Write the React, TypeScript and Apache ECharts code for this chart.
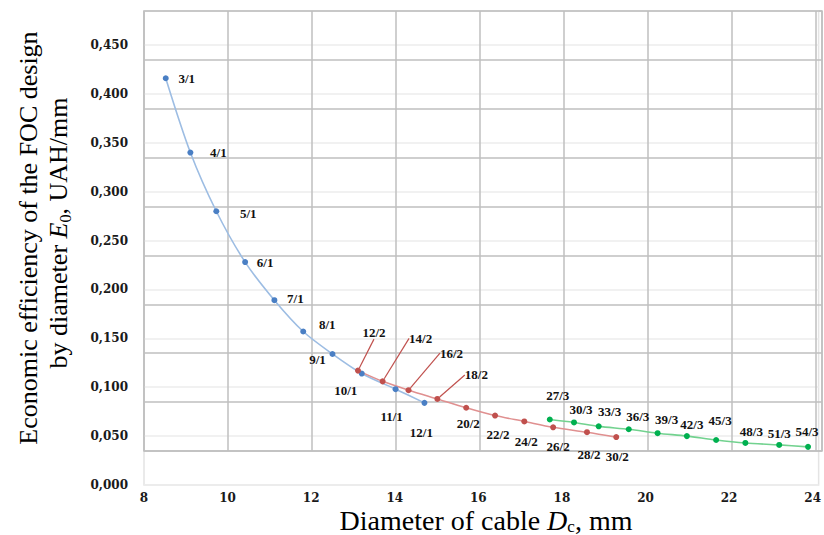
import React, { useEffect, useRef } from "react";
import * as echarts from "echarts";

// ---- data ----
const blueX = [8.52, 9.11, 9.73, 10.42, 11.12, 11.81, 12.51, 13.21, 14.02, 14.71];
const blueY = [0.416, 0.340, 0.280, 0.228, 0.189, 0.157, 0.134, 0.114, 0.098, 0.084];
const blueLabels = ["3/1", "4/1", "5/1", "6/1", "7/1", "8/1", "9/1", "10/1", "11/1", "12/1"];

const redX = [13.12, 13.71, 14.33, 15.02, 15.71, 16.40, 17.10, 17.79, 18.60, 19.30];
const redY = [0.117, 0.106, 0.097, 0.088, 0.079, 0.071, 0.065, 0.059, 0.054, 0.049];
const redLabels = ["12/2", "14/2", "16/2", "18/2", "20/2", "22/2", "24/2", "26/2", "28/2", "30/2"];

const greenX = [17.71, 18.29, 18.88, 19.60, 20.29, 20.99, 21.69, 22.39, 23.20, 23.89];
const greenY = [0.067, 0.064, 0.060, 0.057, 0.053, 0.050, 0.046, 0.043, 0.041, 0.039];
const greenLabels = ["27/3", "30/3", "33/3", "36/3", "39/3", "42/3", "45/3", "48/3", "51/3", "54/3"];

// ---- label placement (pixel offsets from each point) ----
const blueOffsets = [[21, 0], [28, 0], [32, 2], [20, 0], [21, -2], [24, -7], [-15, 6], [-16, 17], [-4, 27], [-3, 30]];
const redOffsets = [[16, -38], [38, -43], [43, -37], [39, -24], [2, 16], [3, 19], [2, 20], [5, 19], [2, 22], [1, 19]];
const redLeader = [true, true, true, true, false, false, false, false, false, false];
const greenOffsets = [[8, -24], [7, -13], [11, -15], [9, -13], [9, -14], [5, -12], [4, -20], [6, -11], [0, -11], [-1, -15]];

const X_MIN = 8;
const X_MAX = 24.143;
const Y_MAX = 0.4848;

const serif = "'Liberation Serif', 'Times New Roman', serif";
const tickFont = "'DejaVu Serif', serif";

function buildSeries(
  name: string,
  xs: number[],
  ys: number[],
  labels: string[],
  offsets: number[][],
  lineColor: string,
  dotColor: string,
  leader?: boolean[]
) {
  return {
    name,
    type: "line",
    xAxisIndex: 0,
    yAxisIndex: 0,
    smooth: 0.3,
    symbol: "circle",
    symbolSize: 6,
    z: 5,
    lineStyle: { color: lineColor, width: 1.6 },
    itemStyle: { color: dotColor },
    data: xs.map((x, i) => ({
      value: [x, ys[i]],
      label: { offset: offsets[i] },
      labelLine: leader && leader[i] ? { show: true, lineStyle: { color: dotColor, width: 1.2 } } : { show: false },
    })),
    label: {
      show: true,
      position: "inside",
      align: "center",
      verticalAlign: "middle",
      fontFamily: serif,
      fontWeight: "bold",
      fontSize: 13,
      color: "#111",
      formatter: (p: any) => labels[p.dataIndex],
    },
  };
}

const titleRich = (size: number, lh: number, subH: number) => ({
  n: { fontFamily: serif, fontSize: size, lineHeight: lh, fill: "#000" },
  i: { fontFamily: serif, fontSize: size, lineHeight: lh, fontStyle: "italic", fill: "#000" },
  s: {
    fontFamily: serif,
    fontSize: Math.round(size * 0.62),
    lineHeight: subH,
    height: subH,
    verticalAlign: "bottom",
    fill: "#000",
  },
});

export default function App() {
  const ref = useRef<HTMLDivElement>(null);
  useEffect(() => {
    if (!ref.current) return;
    const chart = echarts.init(ref.current, undefined, { renderer: "svg" });
    const option: any = {
      animation: false,
      backgroundColor: "#ffffff",
      grid: [
        {
          left: 144,
          right: 2,
          top: 11,
          bottom: 50,
          show: true,
          borderColor: "#e4e4e4",
          borderWidth: 1.5,
          backgroundColor: "transparent",
        },
        {
          left: 144,
          right: 2,
          top: 11,
          bottom: 84,
          show: true,
          borderColor: "#bfbfbf",
          borderWidth: 1.5,
          backgroundColor: "transparent",
        },
      ],
      xAxis: [
        {
          type: "value",
          gridIndex: 0,
          min: X_MIN,
          max: X_MAX,
          interval: 2,
          axisLine: { show: false },
          axisTick: { show: false },
          splitLine: { show: false },
          axisLabel: {
            margin: 6,
            fontFamily: tickFont,
            fontWeight: "bold",
            fontSize: 12,
            lineHeight: 14,
            color: "#1a1a1a",
            showMaxLabel: false,
            formatter: (v: number) => (Math.abs(v - Math.round(v)) < 1e-6 ? String(Math.round(v)) : ""),
          },
        },
        {
          type: "value",
          gridIndex: 1,
          min: X_MIN,
          max: X_MAX,
          interval: 2,
          axisLine: { show: false },
          axisTick: { show: false },
          axisLabel: { show: false },
          splitLine: { show: true, lineStyle: { color: "#bfbfbf", width: 1.5 } },
        },
      ],
      yAxis: [
        {
          type: "value",
          gridIndex: 0,
          min: 0,
          max: Y_MAX,
          interval: 0.05,
          axisLine: { show: false },
          axisTick: { show: false },
          splitLine: { show: true, lineStyle: { color: "#ececec", width: 1.5 } },
          axisLabel: {
            margin: 16,
            fontFamily: tickFont,
            fontWeight: "bold",
            fontSize: 12,
            color: "#1a1a1a",
            formatter: (v: number) => {
              const k = v / 0.05;
              if (Math.abs(k - Math.round(k)) > 1e-6) return "";
              return v.toFixed(3).replace(".", ",");
            },
          },
        },
        {
          type: "value",
          gridIndex: 1,
          min: 0,
          max: 9,
          interval: 1,
          axisLine: { show: false },
          axisTick: { show: false },
          axisLabel: { show: false },
          splitLine: { show: true, lineStyle: { color: "#bfbfbf", width: 1.5 } },
        },
      ],
      series: [
        buildSeries("d1", blueX, blueY, blueLabels, blueOffsets, "#9dbde3", "#4a7fc4"),
        buildSeries("d2", redX, redY, redLabels, redOffsets, "#e09090", "#c0504d", redLeader),
        buildSeries("d3", greenX, greenY, greenLabels, greenOffsets, "#72d28f", "#00b050"),
      ],
      graphic: [
        {
          type: "text",
          x: 486,
          y: 520,
          style: {
            text: "{n|Diameter of cable }{i|D}{s|c}{n|, mm}",
            align: "center",
            verticalAlign: "middle",
            rich: titleRich(28, 22, 10),
          },
        },
        {
          type: "text",
          x: 28,
          y: 238,
          rotation: Math.PI / 2,
          style: {
            text: "Economic efficiency of the FOC design",
            align: "center",
            verticalAlign: "middle",
            fontFamily: serif,
            fontSize: 26,
            lineHeight: 28,
            fill: "#000",
          },
        },
        {
          type: "text",
          x: 58,
          y: 233,
          rotation: Math.PI / 2,
          style: {
            text: "{n|by diameter }{i|E}{s|0}{n|, UAH/mm}",
            align: "center",
            verticalAlign: "middle",
            rich: titleRich(26, 28, 14),
          },
        },
      ],
    };
    chart.setOption(option);
    return () => chart.dispose();
  }, []);
  return (
    <div
      ref={ref}
      style={{ position: "fixed", left: 0, top: 0, width: 824, height: 535, background: "#fff" }}
    />
  );
}
